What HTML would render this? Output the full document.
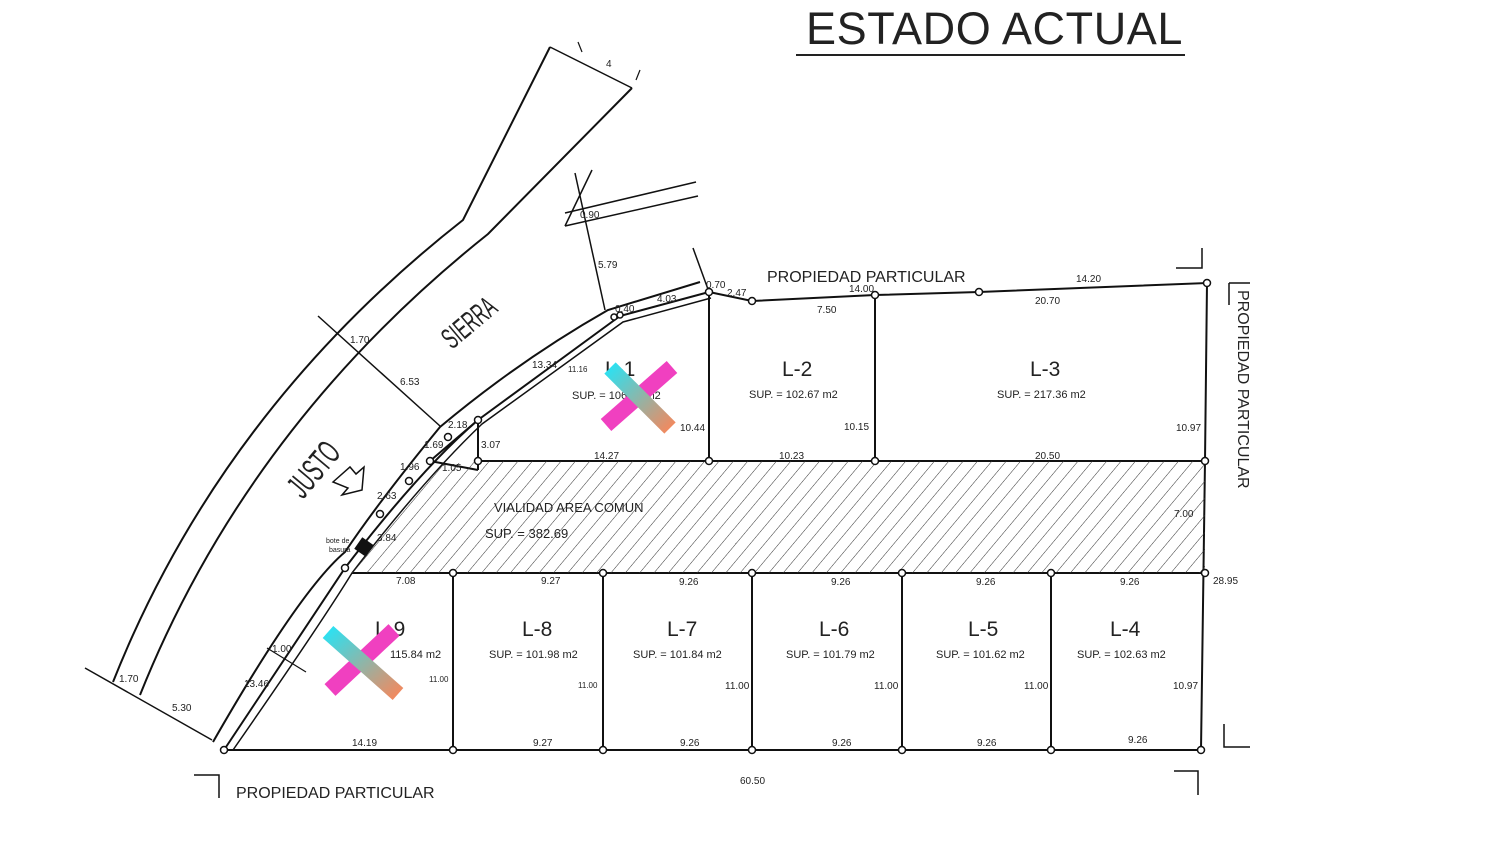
<!DOCTYPE html>
<html><head><meta charset="utf-8"><style>
html,body{margin:0;padding:0;background:#fff;}
svg{display:block;}
text{font-family:"Liberation Sans",sans-serif;fill:#222;}
.s{font-size:10px;}
.m{font-size:11px;}
.l{font-size:21px;}
</style></head><body>
<svg width="1500" height="847" viewBox="0 0 1500 847" xmlns="http://www.w3.org/2000/svg">
<defs>
<pattern id="h" patternUnits="userSpaceOnUse" width="11" height="11" patternTransform="rotate(40)">
<line x1="0" y1="0" x2="0" y2="11" stroke="#333" stroke-width="1"/>
</pattern>
<linearGradient id="g1" x1="0" y1="0" x2="1" y2="1"><stop offset="0" stop-color="#2ee0f0"/><stop offset="1" stop-color="#f08a60"/></linearGradient>
</defs>
<rect width="1500" height="847" fill="#fff"/>
<text x="806" y="44" style="font-size:45px;letter-spacing:0.6px">ESTADO ACTUAL</text>
<line x1="796" y1="55" x2="1185" y2="55" stroke="#222" stroke-width="2"/>

<g fill="none" stroke="#111" stroke-width="2">
<!-- road -->
<path d="M113,682 Q221,410 463,220 L550,47"/>
<path d="M140,695 Q248,425 488,234 L632,88"/>
<line x1="550" y1="47" x2="632" y2="88" stroke-width="1.5"/>
<line x1="578" y1="42" x2="582" y2="52" stroke-width="1.2"/>
<line x1="640" y1="70" x2="636" y2="80" stroke-width="1.2"/>
<line x1="85" y1="668" x2="212" y2="740" stroke-width="1.5"/>
<line x1="318" y1="316" x2="440" y2="426" stroke-width="1.5"/>
<!-- side street -->
<line x1="565" y1="213" x2="696" y2="182" stroke-width="1.5"/>
<line x1="565" y1="226" x2="698" y2="196" stroke-width="1.5"/>
<line x1="565" y1="226" x2="592" y2="170" stroke-width="1.5"/>
<line x1="575" y1="173" x2="605" y2="310" stroke-width="1.5"/>
<line x1="693" y1="248" x2="709" y2="292" stroke-width="1.5"/>
<!-- sidewalk -->
<path d="M213,742 Q300,590 345,552 Q380,500 440,427 Q520,360 608,310 L700,282"/>
<path d="M224,750 Q310,620 345,568 Q420,470 478,420 L620,316 L709,292"/>
<path d="M233,750 Q320,625 352,573 Q425,478 482,424 L623,322 L711,298" stroke-width="1.5"/>
<!-- lots -->
<polyline points="709,292 752,301 875,295 979,292 1207,283 1205,461 1201,750 224,750"/>
<line x1="709" y1="292" x2="709" y2="461"/>
<line x1="875" y1="295" x2="875" y2="461"/>
<line x1="478" y1="461" x2="1205" y2="461"/>
<line x1="352" y1="573" x2="1205" y2="573"/>
<line x1="453" y1="573" x2="453" y2="750"/>
<line x1="603" y1="573" x2="603" y2="750"/>
<line x1="752" y1="573" x2="752" y2="750"/>
<line x1="902" y1="573" x2="902" y2="750"/>
<line x1="1051" y1="573" x2="1051" y2="750"/>
<line x1="478" y1="420" x2="478" y2="470"/>
<line x1="430" y1="461" x2="478" y2="420"/>
<line x1="430" y1="461" x2="478" y2="470"/>
<!-- corner marks -->
<polyline points="1176,268 1202,268 1202,248" stroke-width="1.5"/>
<polyline points="1229,283 1250,283" stroke-width="1.5"/>
<line x1="1229" y1="283" x2="1229" y2="305" stroke-width="1.5"/>
<polyline points="1224,724 1224,747 1250,747" stroke-width="1.5"/>
<polyline points="1174,771 1198,771 1198,795" stroke-width="1.5"/>
<polyline points="194,775 219,775 219,798" stroke-width="1.5"/>
<line x1="267" y1="648" x2="306" y2="672" stroke-width="1.2"/>
</g>
<path d="M478,461 L1205,461 L1205,573 L352,573 Q400,500 430,466 Z" fill="url(#h)"/>
<g fill="#fff" stroke="#111" stroke-width="1.5">
<circle cx="709" cy="292" r="3.5"/><circle cx="752" cy="301" r="3.5"/><circle cx="875" cy="295" r="3.5"/><circle cx="979" cy="292" r="3.5"/><circle cx="1207" cy="283" r="3.5"/>
<circle cx="709" cy="461" r="3.5"/><circle cx="875" cy="461" r="3.5"/><circle cx="1205" cy="461" r="3.5"/><circle cx="478" cy="461" r="3.5"/><circle cx="478" cy="420" r="3.5"/>
<circle cx="453" cy="573" r="3.5"/><circle cx="603" cy="573" r="3.5"/><circle cx="752" cy="573" r="3.5"/><circle cx="902" cy="573" r="3.5"/><circle cx="1051" cy="573" r="3.5"/><circle cx="1205" cy="573" r="3.5"/>
<circle cx="453" cy="750" r="3.5"/><circle cx="603" cy="750" r="3.5"/><circle cx="752" cy="750" r="3.5"/><circle cx="902" cy="750" r="3.5"/><circle cx="1051" cy="750" r="3.5"/><circle cx="1201" cy="750" r="3.5"/><circle cx="224" cy="750" r="3.5"/>
<circle cx="345" cy="568" r="3.5"/><circle cx="380" cy="514" r="3.5"/><circle cx="409" cy="481" r="3.5"/><circle cx="448" cy="437" r="3.5"/><circle cx="430" cy="461" r="3.5"/><circle cx="614" cy="317" r="3"/><circle cx="620" cy="315" r="3"/>
</g>
<rect x="357" y="540" width="14" height="14" fill="#111" transform="rotate(35 364 547)"/>
<polygon points="333,482 350,467 356,474 364,467 362,490 342,495 348,488" fill="#fff" stroke="#111" stroke-width="1.5"/>

<!-- labels -->
<g transform="translate(452,350) rotate(-40) scale(0.75,1.35)"><text x="0" y="0" style="font-size:22px">SIERRA</text></g>
<g transform="translate(303,500) rotate(-50) scale(0.85,1.55)"><text x="0" y="0" style="font-size:22px">JUSTO</text></g>
<text x="767" y="282" style="font-size:16px">PROPIEDAD PARTICULAR</text>
<text x="236" y="798" style="font-size:16px">PROPIEDAD PARTICULAR</text>
<g transform="rotate(90 1238 290)"><text x="1238" y="290" style="font-size:16px">PROPIEDAD PARTICULAR</text></g>

<text x="782" y="376" class="l">L-2</text>
<text x="1030" y="376" class="l">L-3</text>
<text x="605" y="376" class="l">L-1</text>
<text x="375" y="636" class="l">L-9</text>
<text x="522" y="636" class="l">L-8</text>
<text x="667" y="636" class="l">L-7</text>
<text x="819" y="636" class="l">L-6</text>
<text x="968" y="636" class="l">L-5</text>
<text x="1110" y="636" class="l">L-4</text>
<text x="749" y="398" class="m">SUP. = 102.67 m2</text>
<text x="997" y="398" class="m">SUP. = 217.36 m2</text>
<text x="572" y="399" class="m">SUP. = 106.85 m2</text>
<text x="390" y="658" class="m">115.84 m2</text>
<text x="489" y="658" class="m">SUP. = 101.98 m2</text>
<text x="633" y="658" class="m">SUP. = 101.84 m2</text>
<text x="786" y="658" class="m">SUP. = 101.79 m2</text>
<text x="936" y="658" class="m">SUP. = 101.62 m2</text>
<text x="1077" y="658" class="m">SUP. = 102.63 m2</text>
<text x="494" y="512" style="font-size:13px">VIALIDAD AREA COMUN</text>
<text x="485" y="538" style="font-size:13px">SUP. = 382.69</text>

<g class="s">
<text x="606" y="67" class="s">4</text>
<text x="580" y="218" class="s">0.90</text>
<text x="598" y="268" class="s">5.79</text>
<text x="350" y="343" class="s">1.70</text>
<text x="400" y="385" class="s">6.53</text>
<text x="532" y="368" class="s">13.34</text>
<text x="568" y="372" style="font-size:8px">11.16</text>
<text x="615" y="312" class="s">0.40</text>
<text x="657" y="302" class="s">4.03</text>
<text x="706" y="288" class="s">0.70</text>
<text x="727" y="296" class="s">2.47</text>
<text x="849" y="292" class="s">14.00</text>
<text x="1076" y="282" class="s">14.20</text>
<text x="817" y="313" class="s">7.50</text>
<text x="1035" y="304" class="s">20.70</text>
<text x="680" y="431" class="s">10.44</text>
<text x="844" y="430" class="s">10.15</text>
<text x="1176" y="431" class="s">10.97</text>
<text x="448" y="428" class="s">2.18</text>
<text x="481" y="448" class="s">3.07</text>
<text x="424" y="448" class="s">1.69</text>
<text x="400" y="470" class="s">1.96</text>
<text x="442" y="471" class="s">1.05</text>
<text x="377" y="499" class="s">2.63</text>
<text x="377" y="541" class="s">3.84</text>
<text x="326" y="543" style="font-size:7px">bote de</text>
<text x="329" y="552" style="font-size:7px">basura</text>
<text x="594" y="459" class="s">14.27</text>
<text x="779" y="459" class="s">10.23</text>
<text x="1035" y="459" class="s">20.50</text>
<text x="1174" y="517" class="s">7.00</text>
<text x="396" y="584" class="s">7.08</text>
<text x="541" y="584" class="s">9.27</text>
<text x="679" y="585" class="s">9.26</text>
<text x="831" y="585" class="s">9.26</text>
<text x="976" y="585" class="s">9.26</text>
<text x="1120" y="585" class="s">9.26</text>
<text x="1213" y="584" class="s">28.95</text>
<text x="272" y="652" class="s">1.00</text>
<text x="119" y="682" class="s">1.70</text>
<text x="172" y="711" class="s">5.30</text>
<text x="244" y="687" class="s">13.46</text>
<text x="429" y="682" style="font-size:8px">11.00</text>
<text x="578" y="688" style="font-size:8px">11.00</text>
<text x="725" y="689" class="s">11.00</text>
<text x="874" y="689" class="s">11.00</text>
<text x="1024" y="689" class="s">11.00</text>
<text x="1173" y="689" class="s">10.97</text>
<text x="352" y="746" class="s">14.19</text>
<text x="533" y="746" class="s">9.27</text>
<text x="680" y="746" class="s">9.26</text>
<text x="832" y="746" class="s">9.26</text>
<text x="977" y="746" class="s">9.26</text>
<text x="1128" y="743" class="s">9.26</text>
<text x="740" y="784" class="s">60.50</text>
</g>
<!-- X marks -->
<g stroke-width="16" stroke-linecap="butt">
<line x1="606" y1="425" x2="672" y2="367" stroke="#f040c0"/>
<line x1="610" y1="368" x2="670" y2="428" stroke="url(#g1)"/>
<line x1="330" y1="690" x2="394" y2="630" stroke="#f040c0"/>
<line x1="328" y1="632" x2="398" y2="694" stroke="url(#g1)"/>
</g>
</svg>
</body></html>
